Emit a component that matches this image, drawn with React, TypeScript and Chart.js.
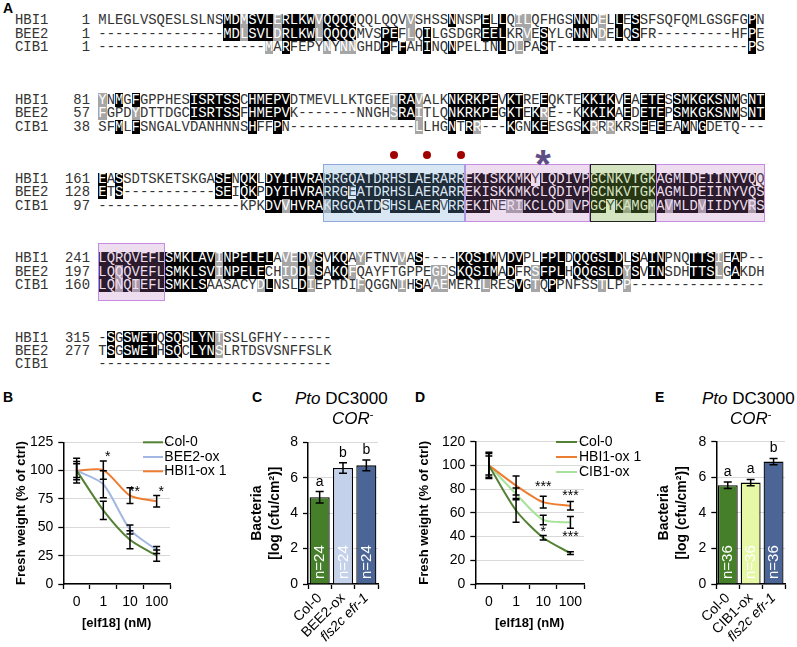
import React, { useEffect, useRef } from 'react';
import { Chart, registerables } from 'chart.js';

Chart.register(...registerables);

const SANS = "'Liberation Sans', Arial, Helvetica, sans-serif";
const MONO = "'Liberation Mono', 'Courier New', monospace";
Chart.defaults.font.family = SANS;

/* ================= Panel A : alignment data ================= */
const D = (n: number) => '-'.repeat(n);

const ROW_NAMES = ['HBI1', 'BEE2', 'CIB1'];
const START_HBI1 = [1, 81, 161, 241, 315];
const START_BEE2 = [1, 57, 128, 197, 277];
const START_CIB1: (number | null)[] = [1, 38, 97, 160, null];

const SEQ_HBI1 = [
  'MLEGLVSQESLSLNSMDMSVLERLKWVQQQQQQLQQVVSHSSNNSPELLQILQFHGSNNDELLESSFSQFQMLGSGFGPN',
  'YNMGFGPPHESISRTSSCHMEPVDTMEVLLKTGEETRAVALKNKRKPEVKTREEQKTEKKIKVEAETESSMKGKSNMGNT',
  'EASSDTSKETSKGASENQKLDYIHVRARRGQATDRHSLAERARREKISKKMKYLQDIVPGCNKVTGKAGMLDEIINYVQQ',
  'LQRQVEFLSMKLAVINPELELAVEDVSVKQAYFTNVVAS' + D(4) + 'KQSIMVDVPLFPLDQQGSLDLSAINPNQTTSIEAP' + D(2),
  '-SGSWETQSQSLYNTSSLGFHY' + D(6),
];
const SEQ_BEE2 = [
  D(15) + 'MDLSVLDRLKWLQQQQMVSPEFLQILGSDGREELKRVESYLGNNNDELQSFR' + D(9) + 'HFPE',
  'FGPDYDTTDGCISRTSSFHMEPVK' + D(7) + 'NNGHSRAITLQNKRKPEGKTEKRE' + D(2) + 'KKKIKAEDETEPSMKGKSNMSNT',
  'ETS' + D(11) + 'SEIQKPDYIHVRARRGEATDRHSLAERARREKISKKMKCLQDIVPGCNKVTGKAGMLDEIINYVQS',
  'LQQQVEFLSMKLSVINPELECHIDDLSAKQFQAYFTGPPEGDSKQSIMADFRSFPLHQQGSLDYSVINSDHTTSLGAKDH',
  'TSGSWETHSQCLYNSLRTDSVSNFFSLK',
];
const SEQ_CIB1 = [
  D(20) + 'MARFEPYNYNNGHDPFFAHINQNPELINLDLPAST' + D(23) + 'PS',
  'SFMLFSNGALVDANHNNSHFFPN' + D(15) + 'LLHGNTRR' + D(3) + 'KGNKEESGSKRRRKRSEEEEAMNGDETQ' + D(3),
  D(17) + 'KPKDVVHVRAKRGQATDSHSLAERVRREKINERIKCLQDLVPGCYKAMGMAVMLDVIIDYVRS',
  'LQNQIEFLSMKLSAASACYDLNSLDIEPTDIFQGGNIHSAAEMERILRESVGTQPPNFSSTLPP' + D(16),
  D(28),
];

// shaded columns (black = identical, gray = similar), one entry per block
const BLACK_HBI1 = [
  '15-16,18-20,22-25,27-30,42,46,48,57-58,62,64,78',
  '2,4,11-16,18-22,36-37,42-47,49-50,53,58-61,63,65-67,69-76,78-79',
  '0,2,14-15,17-18,20-51,53-78',
  '0-13,15-20,24,26,28-29,38,43-47,49-50,53-55,57-62,64,66-67,71-73,76',
  '1,3-6,8-9,11-13',
];
const GRAY_HBI1 = ['17,21,26,37,50-51,60', '0,35,38', '', '14,22-23,25,31,36,74', '14'];
const BLACK_BEE2 = [
  '15-16,18-20,22-25,27-30,34-35,39,46-48,53,57-58,62,64,78',
  '11-16,18-22,36-37,42-47,49-50,52,58-61,63,65-67,69-76,78-79',
  '0,2,14-15,17-18,20-29,31-79',
  '0-1,3-13,15-19,24,26,28-29,43-47,49,53-55,57-62,64,66-67,71-73,76',
  '1,3-6,8-9,11-13',
];
const GRAY_BEE2 = ['17,21,26,37,51,60', '0,4,35,38,53', '', '2,14,22-23,25,30,40-41,52,63,74', '14'];
const BLACK_CIB1 = [
  '22,34,36,39,42,48,53,78',
  '2,4,18,21,42,44,49,52-53,58,65,67,70,72',
  '20-21,23-26,28-33,35-40,42-46,51-55,57-60,62,64-65,67,69-71,73-77,79',
  '0-1,3,5-12,20,24,38,50,54',
  '',
];
const GRAY_CIB1 = ['20,27,29-30,50', '38,45,59,61', '22,27,49-50,56,63,66,68,72,78', '2,4,19,25,31,36,40-41,46,52,60,63', ''];

// domain boxes: [block, firstCol, lastCol, kind]
const DOMAIN_BOXES: [number, number, number, string][] = [
  [2, 27, 43, 'blue'],
  [2, 44, 58, 'pink'],
  [2, 59, 66, 'green'],
  [2, 67, 79, 'pink'],
  [3, 0, 7, 'pink'],
];
const DOT_COLS = [35, 39, 43];

/* ================= Panels B-E data ================= */
const DOSES = ['0', '1', '10', '100'];

const B_COL0 = [100, 65, 39, 25];
const B_COL0_ERR = [8, 8, 8, 5];
const B_BEE2 = [100, 88, 48, 30];
const B_BEE2_ERR = [6, 12, 4, 3];
const B_HBI1 = [100, 100.5, 78, 73];
const B_HBI1_ERR = [11, 8, 7, 5];
const B_SIG = [
  { i: 1, v: 116, t: '*' },
  { i: 2, v: 85, t: '**' },
  { i: 3, v: 85, t: '*' },
];

const C_LABELS = ['Col-0', 'BEE2-ox', 'fls2c efr-1'];
const C_VALUES = [4.9, 6.55, 6.7];
const C_ERR = [0.32, 0.3, 0.3];
const C_LETTERS = ['a', 'b', 'b'];
const C_N = ['n=24', 'n=24', 'n=24'];

const D_COL0 = [100, 62, 39, 26];
const D_COL0_ERR = [11, 10, 2, 1.2];
const D_HBI1 = [100, 83, 69, 66];
const D_HBI1_ERR = [10, 8, 5, 3.5];
const D_CIB1 = [100, 76, 54, 52];
const D_CIB1_ERR = [8, 5, 4, 5];
const D_SIG = [
  { i: 2, v: 85, t: '***' },
  { i: 3, v: 78, t: '***' },
  { i: 2, v: 47, t: '*' },
  { i: 3, v: 43, t: '***' },
];

const E_LABELS = ['Col-0', 'CIB1-ox', 'fls2c efr-1'];
const E_VALUES = [5.55, 5.7, 6.88];
const E_ERR = [0.18, 0.18, 0.18];
const E_LETTERS = ['a', 'a', 'b'];
const E_N = ['n=36', 'n=36', 'n=36'];

const COL_GREEN = '#548235';
const COL_ORANGE = '#ed7d31';
const COL_LBLUE = '#a2b8e2';
const COL_LGREEN = '#a8e29a';
const BAR_GREEN = '#467f2a';
const BAR_LBLUE = '#c3d1ea';
const BAR_NAVY = '#4a6596';
const BAR_YELLOW = '#e6f8a6';

/* ================= helpers ================= */
function parseRanges(s: string): Set<number> {
  const out = new Set<number>();
  if (!s) return out;
  s.split(',').forEach((p) => {
    const [a, b] = p.split('-').map(Number);
    const e = b === undefined ? a : b;
    for (let i = a; i <= e; i++) out.add(i);
  });
  return out;
}

const CW = 8.33;
const SEQ_X = 98.3;
const NAME_X = 15;
const rowTop = (b: number, r: number) => Math.round(14 + 79.3 * b + 13.4 * r);

function Alignment() {
  const rows = [
    { name: ROW_NAMES[0], seqs: SEQ_HBI1, starts: START_HBI1, black: BLACK_HBI1, gray: GRAY_HBI1 },
    { name: ROW_NAMES[1], seqs: SEQ_BEE2, starts: START_BEE2, black: BLACK_BEE2, gray: GRAY_BEE2 },
    { name: ROW_NAMES[2], seqs: SEQ_CIB1, starts: START_CIB1, black: BLACK_CIB1, gray: GRAY_CIB1 },
  ];
  const els: any[] = [];
  for (let b = 0; b < 5; b++) {
    rows.forEach((row, r) => {
      const top = rowTop(b, r);
      const h = rowTop(b, r + 1) - top;
      const base: any = {
        position: 'absolute', top, height: h, lineHeight: h + 'px',
        fontFamily: MONO, fontSize: 13.88, color: '#333', whiteSpace: 'nowrap',
      };
      els.push(<div key={`n${b}${r}`} style={{ ...base, left: NAME_X }}>{row.name}</div>);
      if (row.starts[b] != null) {
        els.push(
          <div key={`s${b}${r}`} style={{ ...base, left: 50, width: 40, textAlign: 'right' }}>{row.starts[b]}</div>,
        );
      }
      const blk = parseRanges(row.black[b]);
      const gry = parseRanges(row.gray[b]);
      els.push(
        <div key={`q${b}${r}`} style={{ ...base, left: SEQ_X }}>
          {row.seqs[b].split('').map((ch, i) => {
            const bg = blk.has(i) ? '#000' : gry.has(i) ? '#a6a6a6' : 'transparent';
            return (
              <span
                key={i}
                style={{
                  display: 'inline-block', width: CW, height: h, lineHeight: h + 'px', verticalAlign: 'top',
                  textAlign: 'center', background: bg, color: bg === 'transparent' ? '#333' : '#fff',
                }}
              >
                {ch}
              </span>
            );
          })}
        </div>,
      );
    });
  }
  const boxStyle: any = {
    blue: { background: 'rgba(116,168,216,0.27)', border: '1px solid #8fa9dc' },
    pink: { background: 'rgba(185,110,190,0.24)', border: '1px solid #c68be6' },
    green: { background: 'rgba(120,170,60,0.32)', border: '1.3px solid #222' },
  };
  DOMAIN_BOXES.forEach(([b, c0, c1, kind], k) => {
    const top = rowTop(b, 0) - 9;
    const bottom = rowTop(b, 3) + 9;
    els.push(
      <div
        key={`box${k}`}
        style={{
          position: 'absolute', left: SEQ_X + c0 * CW, top, width: (c1 - c0 + 1) * CW, height: bottom - top,
          boxSizing: 'border-box', ...boxStyle[kind],
        }}
      />,
    );
  });
  DOT_COLS.forEach((c, k) => {
    els.push(
      <div
        key={`dot${k}`}
        style={{
          position: 'absolute', left: SEQ_X + (c + 0.5) * CW - 4, top: rowTop(2, 0) - 22, width: 8, height: 8,
          borderRadius: '50%', background: '#a00000',
        }}
      />,
    );
  });
  els.push(
    <div
      key="star"
      style={{
        position: 'absolute', left: 523, top: 144, width: 40, textAlign: 'center', fontFamily: SANS,
        fontWeight: 'bold', fontSize: 40, lineHeight: '40px', color: '#5d4f85',
      }}
    >
      *
    </div>,
  );
  return <>{els}</>;
}

/* ================= chart plugin ================= */
const extrasPlugin = {
  id: 'extras',
  afterDatasetsDraw(chart: any, _a: any, o: any) {
    const { ctx, chartArea: ca } = chart;
    const ys = chart.scales.y;
    const xs = chart.scales.x;
    ctx.save();
    (o.errors || []).forEach((errs: number[], di: number) => {
      const meta = chart.getDatasetMeta(di);
      const vals = chart.data.datasets[di].data;
      errs.forEach((e: number, i: number) => {
        const px = meta.data[i].x;
        const t = ys.getPixelForValue(vals[i] + e);
        const bt = ys.getPixelForValue(vals[i] - e);
        ctx.strokeStyle = '#000';
        ctx.lineWidth = 1.5;
        ctx.beginPath();
        ctx.moveTo(px, t); ctx.lineTo(px, bt);
        ctx.moveTo(px - o.cap, t); ctx.lineTo(px + o.cap, t);
        ctx.moveTo(px - o.cap, bt); ctx.lineTo(px + o.cap, bt);
        ctx.stroke();
      });
    });
    if (o.letters) {
      const meta = chart.getDatasetMeta(0);
      const vals = chart.data.datasets[0].data;
      ctx.font = `14px ${SANS}`;
      ctx.fillStyle = '#000';
      ctx.textAlign = 'center';
      ctx.textBaseline = 'alphabetic';
      o.letters.forEach((l: string, i: number) => {
        ctx.fillText(l, meta.data[i].x, ys.getPixelForValue(vals[i] + o.errors[0][i]) - 6);
      });
    }
    if (o.nLabels) {
      const meta = chart.getDatasetMeta(0);
      o.nLabels.forEach((t: string, i: number) => {
        ctx.save();
        ctx.translate(meta.data[i].x + 0.5, ca.bottom - 5);
        ctx.rotate(-Math.PI / 2);
        ctx.font = `15px ${SANS}`;
        ctx.fillStyle = '#fff';
        ctx.textAlign = 'left';
        ctx.textBaseline = 'middle';
        ctx.fillText(t, 0, 0);
        ctx.restore();
      });
    }
    if (o.sig) {
      ctx.font = `14px ${SANS}`;
      ctx.fillStyle = '#000';
      ctx.textAlign = 'center';
      ctx.textBaseline = 'alphabetic';
      o.sig.forEach((s: any) => {
        ctx.fillText(s.t, xs.getPixelForValue(s.i) + (o.sigDx || 0), ys.getPixelForValue(s.v) + 8);
      });
    }
    if (o.legend) {
      const L = o.legend;
      chart.data.datasets.forEach((ds: any, i: number) => {
        const y = ca.top + L.dys[i];
        ctx.strokeStyle = ds.borderColor;
        ctx.lineWidth = 2;
        ctx.beginPath();
        ctx.moveTo(ca.left + L.dx, y);
        ctx.lineTo(ca.left + L.dx + L.len, y);
        ctx.stroke();
        ctx.fillStyle = '#000';
        ctx.font = `14px ${SANS}`;
        ctx.textAlign = 'left';
        ctx.textBaseline = 'middle';
        ctx.fillText(ds.label, ca.left + L.textDx, y);
      });
    }
    ctx.restore();
  },
};

/* ================= axis builders ================= */
function yAxis(max: number, step: number, title: any, padTop: number, width: number, size: number, lh: number) {
  return {
    min: 0,
    max,
    ticks: { stepSize: step, font: { family: SANS, size: 14 }, color: '#000', padding: 5 },
    grid: { color: '#d9d9d9', lineWidth: 1, tickColor: '#000', tickLength: 5, tickWidth: 1.3 },
    border: { color: '#000', width: 1.5 },
    title: {
      display: true, text: title, color: '#000',
      font: { family: SANS, size, weight: 'bold', lineHeight: lh },
      padding: { top: padTop, bottom: 0 },
    },
    afterFit: (s: any) => { s.width = width; },
  };
}

function xLineAxis() {
  return {
    type: 'category',
    offset: true,
    grid: { offset: true, drawOnChartArea: false, tickColor: '#000', tickLength: 5, tickWidth: 1.3 },
    border: { color: '#000', width: 1.5 },
    ticks: { font: { family: SANS, size: 14 }, color: '#000', padding: 4.3, autoSkip: false, maxRotation: 0 },
    title: {
      display: true, text: '[elf18] (nM)', color: '#000',
      font: { family: SANS, size: 13, weight: 'bold', lineHeight: 1.2 },
      padding: { top: 0, bottom: 16.2 },
    },
    afterFit: (s: any) => { s.height = 63; },
  };
}

function xBarAxis() {
  return {
    grid: { offset: true, drawOnChartArea: false, tickColor: '#000', tickLength: 5, tickWidth: 1.3 },
    border: { color: '#000', width: 1.5 },
    ticks: {
      autoSkip: false, minRotation: 45, maxRotation: 45, padding: 1, color: '#000',
      font: (c: any) => ({ family: SANS, size: 14, style: c.index === 2 ? 'italic' : 'normal' }),
    },
    afterFit: (s: any) => { s.height = 63; },
  };
}

const lineDs = (label: string, data: number[], color: string) => ({
  label, data, borderColor: color, backgroundColor: color, borderWidth: 2, pointRadius: 0, tension: 0.25, fill: false,
});

/* ================= chart configs ================= */
const makeB = () => ({
  type: 'line',
  data: {
    labels: DOSES,
    datasets: [lineDs('Col-0', B_COL0, COL_GREEN), lineDs('BEE2-ox', B_BEE2, COL_LBLUE), lineDs('HBI1-ox 1', B_HBI1, COL_ORANGE)],
  },
  options: {
    animation: false, responsive: false, maintainAspectRatio: false,
    layout: { padding: { left: 0, top: 17.3, right: 80, bottom: 0 } },
    plugins: {
      legend: { display: false }, tooltip: { enabled: false },
      extras: {
        errors: [B_COL0_ERR, B_BEE2_ERR, B_HBI1_ERR], cap: 3.5, sig: B_SIG, sigDx: 4.5,
        legend: { dx: 79.7, len: 20, textDx: 101, dys: [0, 14.7, 29] },
      },
    },
    scales: { x: xLineAxis(), y: yAxis(125, 25, 'Fresh weight (% of ctrl)', 13.2, 63.3, 13, 1.2) },
  },
  plugins: [extrasPlugin],
});

const makeC = () => ({
  type: 'bar',
  data: {
    labels: C_LABELS,
    datasets: [{
      data: C_VALUES, backgroundColor: [BAR_GREEN, BAR_LBLUE, BAR_NAVY], borderColor: '#000', borderWidth: 1.3,
      barPercentage: 0.86, categoryPercentage: 1,
    }],
  },
  options: {
    animation: false, responsive: false, maintainAspectRatio: false,
    layout: { padding: { left: 0, top: 17.3, right: 17, bottom: 0 } },
    plugins: {
      legend: { display: false }, tooltip: { enabled: false },
      extras: { errors: [C_ERR], cap: 4, letters: C_LETTERS, nLabels: C_N },
    },
    scales: { x: xBarAxis(), y: yAxis(8, 2, ['Bacteria', '[log (cfu/cm²)]'], 2.9, 63, 14, 1.3) },
  },
  plugins: [extrasPlugin],
});

const makeD = () => ({
  type: 'line',
  data: {
    labels: DOSES,
    datasets: [lineDs('Col-0', D_COL0, COL_GREEN), lineDs('HBI1-ox 1', D_HBI1, COL_ORANGE), lineDs('CIB1-ox', D_CIB1, COL_LGREEN)],
  },
  options: {
    animation: false, responsive: false, maintainAspectRatio: false,
    layout: { padding: { left: 0, top: 16.7, right: 66, bottom: 0 } },
    plugins: {
      legend: { display: false }, tooltip: { enabled: false },
      extras: {
        errors: [D_COL0_ERR, D_HBI1_ERR, D_CIB1_ERR], cap: 3.5, sig: D_SIG, sigDx: 0,
        legend: { dx: 80.7, len: 21, textDx: 103.7, dys: [0.3, 15.3, 30.3] },
      },
    },
    scales: { x: xLineAxis(), y: yAxis(120, 20, 'Fresh weight (% of ctrl)', 16.2, 75.3, 13, 1.2) },
  },
  plugins: [extrasPlugin],
});

const makeE = () => ({
  type: 'bar',
  data: {
    labels: E_LABELS,
    datasets: [{
      data: E_VALUES, backgroundColor: [BAR_GREEN, BAR_YELLOW, BAR_NAVY], borderColor: '#000', borderWidth: 1.3,
      barPercentage: 0.87, categoryPercentage: 1,
    }],
  },
  options: {
    animation: false, responsive: false, maintainAspectRatio: false,
    layout: { padding: { left: 0, top: 16.7, right: 12, bottom: 0 } },
    plugins: {
      legend: { display: false }, tooltip: { enabled: false },
      extras: { errors: [E_ERR], cap: 4, letters: E_LETTERS, nLabels: E_N },
    },
    scales: { x: xBarAxis(), y: yAxis(8, 2, ['Bacteria', '[log (cfu/cm²)]'], 4.9, 66.3, 14, 1.3) },
  },
  plugins: [extrasPlugin],
});

function ChartBox({ left, top, width, height, make }: any) {
  const ref = useRef<HTMLCanvasElement>(null);
  useEffect(() => {
    const chart = new Chart(ref.current as HTMLCanvasElement, make() as any);
    return () => chart.destroy();
  }, []);
  return (
    <canvas
      ref={ref}
      width={width}
      height={height}
      style={{ position: 'absolute', left, top, width, height }}
    />
  );
}

function Txt({ x, y, size = 14, bold = false, center = false, children }: any) {
  return (
    <div
      style={{
        position: 'absolute', left: x, top: y, transform: `translate(${center ? '-50%' : '0'}, -50%)`,
        fontSize: size, fontWeight: bold ? 'bold' : 'normal', lineHeight: 1, whiteSpace: 'nowrap',
        fontFamily: SANS, color: '#000',
      }}
    >
      {children}
    </div>
  );
}

const Sup = () => (
  <span style={{ position: 'relative', top: '-0.5em', fontSize: '0.65em' }}>-</span>
);

export default function App() {
  return (
    <div
      style={{
        position: 'absolute', left: 0, top: 0, width: 797, height: 647, background: '#fff',
        overflow: 'hidden', fontFamily: SANS,
      }}
    >
      <Alignment />
      <ChartBox left={0} top={425} width={250} height={222} make={makeB} />
      <ChartBox left={245} top={425} width={150} height={222} make={makeC} />
      <ChartBox left={400} top={425} width={250} height={222} make={makeD} />
      <ChartBox left={650} top={425} width={147} height={222} make={makeE} />

      <Txt x={3} y={8} bold size={14}>A</Txt>
      <Txt x={3} y={397} bold size={14}>B</Txt>
      <Txt x={252} y={397} bold size={14}>C</Txt>
      <Txt x={415} y={397} bold size={14}>D</Txt>
      <Txt x={655} y={397} bold size={14}>E</Txt>

      <Txt x={295} y={397.5} size={17}><i>Pto</i> DC3000</Txt>
      <Txt x={332} y={417.5} size={17}><i>COR</i><Sup /></Txt>
      <Txt x={702} y={397.5} size={17}><i>Pto</i> DC3000</Txt>
      <Txt x={730} y={417.5} size={17}><i>COR</i><Sup /></Txt>
    </div>
  );
}
